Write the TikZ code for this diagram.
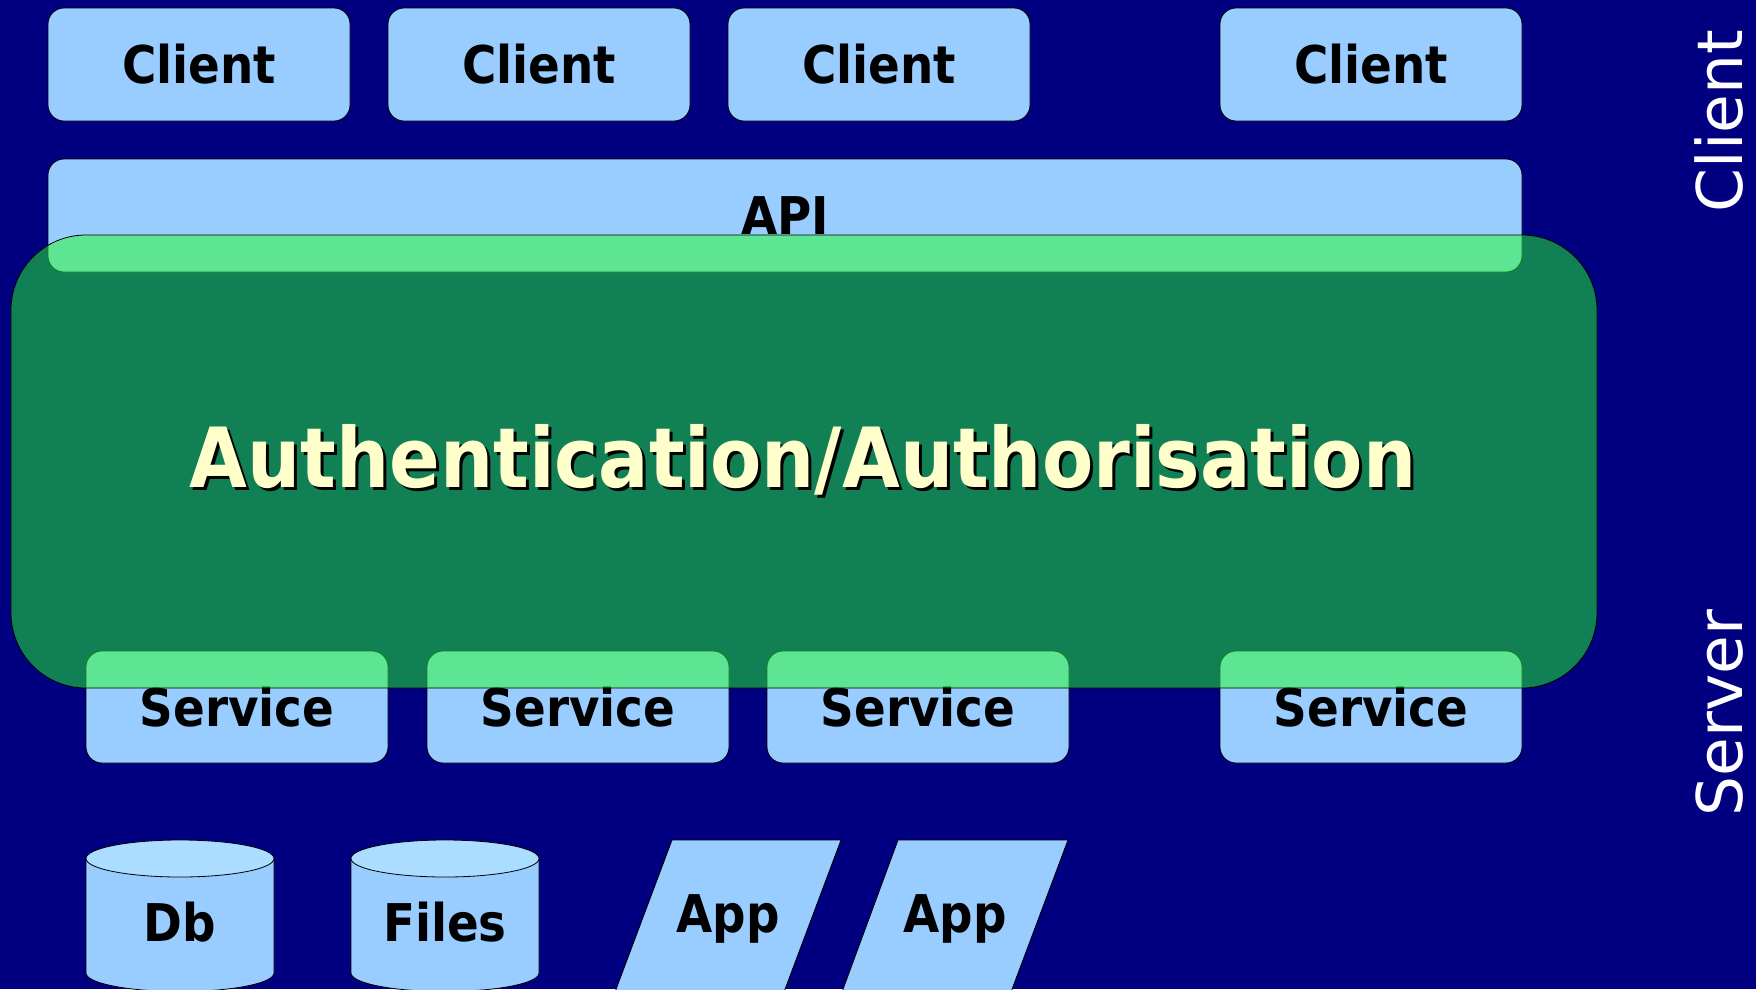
\documentclass[tikz,border=0pt]{standalone}
\usepackage{fontspec}
\newfontfamily\lblfont{DejaVu Sans Condensed Bold}
\newfontfamily\sidefont{DejaVu Sans}
\definecolor{navybg}{RGB}{0,0,128}
\definecolor{boxblue}{RGB}{153,204,255}
\definecolor{capblue}{RGB}{170,221,255}
\definecolor{authgreen}{RGB}{34,255,42}
\definecolor{authtext}{RGB}{255,255,204}
\begin{document}
\begin{tikzpicture}[x=1pt,y=-1pt,
  blbox/.style={draw=black, line width=0.8pt, fill=boxblue, rounded corners=16pt, inner sep=0pt,
    font=\lblfont\fontsize{52}{62}\selectfont, text=black},
  lbl/.style={font=\lblfont\fontsize{52}{62}\selectfont, inner sep=0pt, anchor=base, text=black},
  authlbl/.style={font=\lblfont\fontsize{83}{98}\selectfont, inner sep=0pt, anchor=base},
  sidelbl/.style={font=\sidefont\fontsize{63}{76}\selectfont, inner sep=0pt, anchor=base, text=white, rotate=90},
  bluefill/.style={draw=black, line width=0.8pt, fill=boxblue},
  capfill/.style={draw=black, line width=0.8pt, fill=capblue}]
\fill[navybg] (0,0) rectangle (1756,989);
\path[use as bounding box] (0,0) rectangle (1756,989);
\clip (0,0) rectangle (1756,989);
% clients
\node[blbox, minimum width=302pt, minimum height=113pt] (c1) at (199,64.5) {Client};
\node[blbox, minimum width=302pt, minimum height=113pt] (c2) at (539,64.5) {Client};
\node[blbox, minimum width=302pt, minimum height=113pt] (c3) at (879,64.5) {Client};
\node[blbox, minimum width=302pt, minimum height=113pt] (c4) at (1371,64.5) {Client};
% api
\node[blbox, minimum width=1474pt, minimum height=113pt] (api) at (785,215.5) {API};
% services
\node[blbox, minimum width=302pt, minimum height=112pt] (s1) at (237,707) {Service};
\node[blbox, minimum width=302pt, minimum height=112pt] (s2) at (578,707) {Service};
\node[blbox, minimum width=302pt, minimum height=112pt] (s3) at (918,707) {Service};
\node[blbox, minimum width=302pt, minimum height=112pt] (s4) at (1371,707) {Service};
% auth layer
\node[draw=black, line width=0.8pt, fill=authgreen, fill opacity=0.5, rounded corners=75pt,
  minimum width=1586pt, minimum height=453pt, inner sep=0pt] (auth) at (804,461.5) {};
\node[authlbl, text=black] (authshadow) at (806,490) {Authentication/Authorisation};
\node[authlbl, text=authtext] (authtitle) at (803,487) {Authentication/Authorisation};
% cylinders
\draw[bluefill] (86,858.5) -- (86,973) arc[start angle=180, end angle=360, x radius=94pt, y radius=18.5pt] -- (274,858.5) -- cycle;
\draw[capfill] (180,858.5) ellipse [x radius=94pt, y radius=18.5pt];
\node[lbl] (db) at (180,941) {Db};
\draw[bluefill] (351,858.5) -- (351,973) arc[start angle=180, end angle=360, x radius=94pt, y radius=18.5pt] -- (539,858.5) -- cycle;
\draw[capfill] (445,858.5) ellipse [x radius=94pt, y radius=18.5pt];
\node[lbl] (files) at (445,941) {Files};
% apps
\draw[bluefill] (672,840) -- (841,840) -- (784,992) -- (615,992) -- cycle;
\node[lbl] (app1) at (728,932) {App};
\draw[bluefill] (898,840) -- (1068,840) -- (1011,992) -- (842,992) -- cycle;
\node[lbl] (app2) at (955,932) {App};
% side labels
\node[sidelbl] (sideclient) at (1742,121) {Client};
\node[sidelbl] (sideserver) at (1742,713) {Server};
\end{tikzpicture}
\end{document}
